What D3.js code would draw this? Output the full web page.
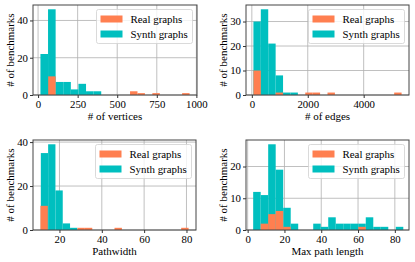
<!DOCTYPE html>
<html>
<head>
<meta charset="utf-8">
<script src="https://cdn.jsdelivr.net/npm/d3@7"></script>
<style>
  body { margin: 0; background: #fff; }
  svg { display: block; font-family: "Liberation Serif", "Times New Roman", serif; }
  .tick text { font-family: "Liberation Serif", "Times New Roman", serif; font-size: 10.8px; fill: #000; }
  .tick line { stroke: #333; }
  .domain { display: none; }
</style>
</head>
<body>
<svg id="chart" width="415" height="262"></svg>
<script>
// histogram bins: first edge, bin width, counts per bin
const vertSynthStart = 15, vertSynthWidth = 48;
const vertSynthCounts = [22, 46, 7, 7, 3, 6, 2, 2];
const vertRealStart = 64, vertRealWidth = 47;
const vertRealCounts = [10, 0, 0, 0, 0, 0, 0, 0, 0, 0, 0, 2, 1, 0, 1, 0, 0, 0, 1];

const edgeSynthStart = 56, edgeSynthWidth = 265;
const edgeSynthCounts = [30, 35, 21, 8, 1, 1];
const edgeRealStart = 56, edgeRealWidth = 265;
const edgeRealCounts = [10, 0, 0, 1, 0, 0, 0, 1, 1, 0, 1, 0, 0, 0, 0, 0, 0, 0, 0, 1];

const pwSynthStart = 11.2, pwSynthWidth = 3.45;
const pwSynthCounts = [35, 39, 18, 3, 1];
const pwRealStart = 11, pwRealWidth = 3.5;
const pwRealCounts = [11, 0, 0, 0, 0, 1, 1, 0, 0, 0, 1, 0, 0, 0, 0, 0, 0, 0, 0, 1];

const mplSynthStart = 3, mplSynthWidth = 4.08;
const mplSynthCounts = [12, 11, 27, 19, 7, 2, 0, 0, 2, 1, 4, 2, 2, 2, 2, 4, 1, 1, 0, 1];
const mplRealStart = 3, mplRealWidth = 4.08;
const mplRealCounts = [0, 2, 5, 6, 1, 0, 0, 0, 0, 0, 0, 0, 0, 0, 1, 0, 0, 0, 0, 0];

const seriesNames = ["Real graphs", "Synth graphs"];
const colors = { real: "#ff7f50", synth: "#00bfbf" };

const panels = [
  { xLabel: "# of vertices", frame: [33, 197, 5, 95], xDomain: [-32, 1004], yMax: 48.3,
    xTicks: [0, 250, 500, 750, 1000], yTicks: [0, 20, 40],
    synth: [vertSynthStart, vertSynthWidth, vertSynthCounts], real: [vertRealStart, vertRealWidth, vertRealCounts] },
  { xLabel: "# of edges", frame: [246, 409, 5, 95], xDomain: [-209, 5621], yMax: 36.75,
    xTicks: [0, 2000, 4000], yTicks: [0, 10, 20, 30],
    synth: [edgeSynthStart, edgeSynthWidth, edgeSynthCounts], real: [edgeRealStart, edgeRealWidth, edgeRealCounts] },
  { xLabel: "Pathwidth", frame: [33, 196, 140, 230], xDomain: [7.5, 84.5], yMax: 40.95,
    xTicks: [20, 40, 60, 80], yTicks: [0, 20, 40],
    synth: [pwSynthStart, pwSynthWidth, pwSynthCounts], real: [pwRealStart, pwRealWidth, pwRealCounts] },
  { xLabel: "Max path length", frame: [246, 409, 140, 230], xDomain: [-0.9, 87.7], yMax: 28.35,
    xTicks: [0, 20, 40, 60, 80], yTicks: [0, 10, 20],
    synth: [mplSynthStart, mplSynthWidth, mplSynthCounts], real: [mplRealStart, mplRealWidth, mplRealCounts] }
];

const svg = d3.select("#chart");

function toBins(start, width, counts) {
  return counts.map((c, i) => ({ x0: start + i * width, x1: start + (i + 1) * width, n: c }))
    .filter(d => d.n > 0);
}

panels.forEach(p => {
  const [l, r, t, b] = p.frame;
  const x = d3.scaleLinear().domain(p.xDomain).range([l, r]);
  const y = d3.scaleLinear().domain([0, p.yMax]).range([b, t]);
  const g = svg.append("g");

  // grid
  g.selectAll(".gx").data(p.xTicks).join("line")
    .attr("x1", d => x(d)).attr("x2", d => x(d)).attr("y1", t).attr("y2", b)
    .attr("stroke", "#b0b0b0").attr("stroke-width", 0.8);
  g.selectAll(".gy").data(p.yTicks).join("line")
    .attr("x1", l).attr("x2", r).attr("y1", d => y(d)).attr("y2", d => y(d))
    .attr("stroke", "#b0b0b0").attr("stroke-width", 0.8);

  // bars: synth behind, real in front
  [["synth", p.synth], ["real", p.real]].forEach(([key, h]) => {
    g.append("g").selectAll("rect").data(toBins(...h)).join("rect")
      .attr("x", d => x(d.x0))
      .attr("width", d => x(d.x1) - x(d.x0))
      .attr("y", d => y(d.n))
      .attr("height", d => y(0) - y(d.n))
      .attr("fill", colors[key]);
  });

  // frame
  g.append("rect").attr("x", l).attr("y", t).attr("width", r - l).attr("height", b - t)
    .attr("fill", "none").attr("stroke", "#444").attr("stroke-width", 1);

  // axes
  g.append("g").attr("transform", `translate(0,${b})`)
    .call(d3.axisBottom(x).tickValues(p.xTicks).tickSize(3).tickPadding(2).tickFormat(d3.format("d")));
  g.append("g").attr("transform", `translate(${l},0)`)
    .call(d3.axisLeft(y).tickValues(p.yTicks).tickSize(3).tickPadding(2).tickFormat(d3.format("d")));

  // labels
  g.append("text").attr("x", (l + r) / 2).attr("y", b + 25)
    .attr("text-anchor", "middle").attr("font-size", 11).text(p.xLabel);
  g.append("text")
    .attr("transform", `translate(${l - 19.5},${(t + b) / 2}) rotate(-90)`)
    .attr("text-anchor", "middle").attr("font-size", 11).text("# of benchmarks");

  // legend
  const lg = g.append("g").attr("transform", `translate(${r - 100.5},${t + 4.5})`);
  lg.append("rect").attr("width", 96).attr("height", 34).attr("rx", 2)
    .attr("fill", "#fff").attr("fill-opacity", 0.8).attr("stroke", "#d0d0d0").attr("stroke-width", 0.8);
  [colors.real, colors.synth].forEach((c, i) => {
    lg.append("rect").attr("x", 4).attr("y", 6 + i * 15).attr("width", 22).attr("height", 7).attr("fill", c);
    lg.append("text").attr("x", 34).attr("y", 13.4 + i * 15).attr("font-size", 10.9).text(seriesNames[i]);
  });
});
</script>
</body>
</html>
